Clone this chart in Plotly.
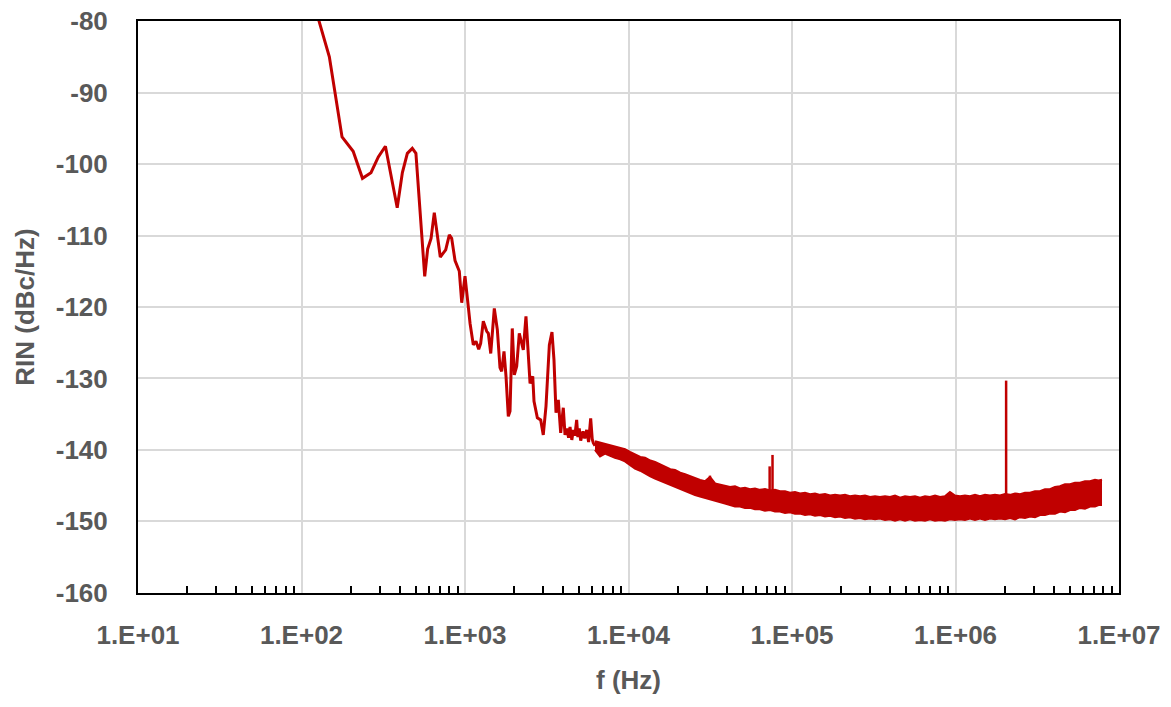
import plotly.graph_objects as go

# ---------------- data ----------------
# low-frequency part of the RIN trace (single line)
f_low = [120, 128, 148, 177, 207, 236, 266, 295, 326, 385, 414, 444, 476, 501,
         567, 591, 620, 649, 706, 762, 802, 829, 869, 923, 955, 1000, 1047, 1074,
         1124, 1167, 1213, 1247, 1294, 1358, 1389, 1437, 1511, 1577, 1637, 1676,
         1732, 1782, 1840, 1885, 1946, 2003, 2071, 2148, 2273, 2360, 2500, 2596,
         2643, 2770, 2904, 3011, 3128, 3280, 3404, 3501, 3603, 3722, 3848, 3991,
         4090, 4200, 4300, 4389, 4500, 4600, 4700, 4819, 4900, 5000, 5100, 5270,
         5400, 5550, 5700, 5871, 6000, 6093, 6240]
rin_low = [-77.5, -80.0, -85.0, -96.2, -98.2, -102.0, -101.2, -99.0, -97.5, -106.1,
           -101.2, -98.5, -97.8, -98.5, -115.7, -111.9, -110.4, -106.8, -113.0,
           -112.0, -109.9, -110.4, -113.5, -115.0, -119.4, -115.7, -119.9, -122.3,
           -125.3, -124.8, -125.9, -125.1, -122.0, -123.4, -123.7, -126.5, -120.2,
           -123.2, -128.5, -129.0, -126.2, -129.7, -135.3, -134.6, -123.0, -129.5,
           -128.3, -123.7, -126.0, -121.3, -130.7, -129.7, -133.2, -135.5, -135.8,
           -137.9, -133.9, -125.3, -123.5, -127.4, -134.8, -133.0, -137.6, -134.1,
           -137.9, -137.0, -138.3, -136.8, -138.6, -137.2, -138.0, -135.8, -138.2,
           -137.0, -138.7, -137.4, -138.4, -137.2, -138.9, -135.6, -138.5, -139.0,
           -139.4]

# noise band (upper / lower envelope) at higher frequencies
f_band = [6240, 6700, 7180, 7700, 8260, 8900, 9520, 10200, 10960, 11800, 12620,
          13600, 14530, 15600, 16730, 18000, 19250, 20700, 22170, 23800, 25520,
          27400, 29380, 31500, 33820, 36300, 38930, 41800, 44810, 48100, 51590,
          55400, 59390, 63700, 68370, 73400, 78710, 84500, 90620, 97200, 104300,
          112000, 120100, 129000, 138300, 148500, 159200, 171000, 183300, 197000,
          211000, 226000, 242900, 261000, 279600, 300000, 321900, 345000, 370600,
          398000, 426600, 458000, 491100, 527000, 565400, 607000, 650900, 698000,
          749300, 804000, 862600, 925000, 993000, 1066000, 1143000, 1226000,
          1316000, 1412000, 1515000, 1626000, 1744000, 1872000, 2008000, 2155000,
          2311000, 2480000, 2661000, 2855000, 3063000, 3286000, 3526000, 3783000,
          4059000, 4355000, 4673000, 5014000, 5380000, 5772000, 6193000, 6645000,
          7130000, 7500000, 7870000]
rin_top = [-138.8, -139.0, -139.2, -139.4, -139.5, -139.7, -139.9, -140.3, -140.6,
           -141.0, -141.1, -141.5, -141.7, -142.0, -142.3, -142.7, -142.8, -143.2,
           -143.4, -143.7, -143.9, -144.2, -144.4, -143.8, -144.7, -144.9, -145.0,
           -145.2, -145.1, -145.4, -145.3, -145.5, -145.4, -145.6, -145.5, -145.7,
           -145.6, -145.8, -145.8, -146.0, -145.9, -146.1, -146.0, -146.2, -146.1,
           -146.3, -146.2, -146.4, -146.3, -146.4, -146.3, -146.5, -146.4, -146.5,
           -146.4, -146.6, -146.5, -146.6, -146.5, -146.6, -146.4, -146.7, -146.5,
           -146.6, -146.5, -146.7, -146.5, -146.6, -146.4, -146.6, -146.5, -145.9,
           -146.4, -146.5, -146.4, -146.5, -146.3, -146.5, -146.3, -146.4, -146.3,
           -146.4, -146.2, -146.3, -146.1, -146.2, -146.0, -146.0, -145.8, -145.8,
           -145.5, -145.5, -145.2, -145.1, -144.8, -144.8, -144.6, -144.6, -144.4,
           -144.4, -144.2, -144.3, -144.2]
rin_bot = [-140.0, -140.9, -140.5, -140.8, -141.1, -141.3, -141.6, -142.1, -142.6,
           -142.9, -143.3, -143.7, -144.0, -144.3, -144.6, -144.9, -145.2, -145.5,
           -145.8, -146.0, -146.3, -146.5, -146.7, -147.0, -147.2, -147.3, -147.5,
           -147.7, -147.9, -147.9, -148.1, -148.1, -148.3, -148.3, -148.5, -148.4,
           -148.6, -148.6, -148.8, -148.7, -148.9, -148.9, -149.1, -149.0, -149.2,
           -149.1, -149.3, -149.2, -149.4, -149.3, -149.5, -149.4, -149.6, -149.5,
           -149.7, -149.6, -149.7, -149.6, -149.8, -149.7, -149.9, -149.7, -149.9,
           -149.7, -149.9, -149.8, -149.9, -149.7, -149.9, -149.8, -149.9, -149.7,
           -149.8, -149.7, -149.8, -149.6, -149.8, -149.6, -149.8, -149.6, -149.7,
           -149.6, -149.7, -149.5, -149.7, -149.4, -149.5, -149.3, -149.4, -149.1,
           -149.1, -148.9, -148.9, -148.6, -148.7, -148.4, -148.4, -148.1, -148.2,
           -147.9, -147.9, -147.7, -147.7]

# narrow spurs
f_spur = [31500, 31500, None, 73000, 73000, None, 76000, 76000, None, 2040000, 2040000]
rin_spur = [-145.5, -143.6, None, -146.5, -142.3, None, -146.5, -140.7, None, -147.0, -130.3]

x_tickvals = [1e1, 1e2, 1e3, 1e4, 1e5, 1e6, 1e7]
x_ticktext = ["1.E+01", "1.E+02", "1.E+03", "1.E+04", "1.E+05", "1.E+06", "1.E+07"]
x_minorvals = [m * d for d in [1e1, 1e2, 1e3, 1e4, 1e5, 1e6] for m in range(2, 10)]
y_tickvals = [-160, -150, -140, -130, -120, -110, -100, -90, -80]
y_ticktext = ["-160", "-150", "-140", "-130", "-120", "-110", "-100", "-90", "-80"]

# ---------------- figure ----------------
RED = "#C00000"
GREY = "#595959"
FONT = "Liberation Sans"

fig = go.Figure()
fig.add_trace(go.Scatter(x=f_band, y=rin_bot, mode="lines",
                         line=dict(color=RED, width=2.2), hoverinfo="skip",
                         showlegend=False))
fig.add_trace(go.Scatter(x=f_band, y=rin_top, mode="lines", fill="tonexty",
                         fillcolor=RED, line=dict(color=RED, width=2.2),
                         hoverinfo="skip", showlegend=False))
fig.add_trace(go.Scatter(x=f_low, y=rin_low, mode="lines",
                         line=dict(color=RED, width=3), showlegend=False))
fig.add_trace(go.Scatter(x=f_spur, y=rin_spur, mode="lines",
                         line=dict(color=RED, width=2.5), showlegend=False,
                         connectgaps=False))

fig.update_layout(
    width=1171, height=707,
    margin=dict(l=138, r=52, t=21, b=114),
    paper_bgcolor="white", plot_bgcolor="white",
    font=dict(family=FONT, color=GREY, size=26),
)
fig.update_xaxes(
    type="log", range=[1, 7], automargin=False,
    tickmode="array", tickvals=x_tickvals, ticktext=x_ticktext,
    tickfont=dict(family=FONT, size=26, color=GREY, weight="bold"),
    ticks="", ticklabelstandoff=18, ticklabeloverflow="allow",
    showgrid=True, gridcolor="#D9D9D9", gridwidth=1.5,
    showline=True, linecolor="black", linewidth=2, mirror=True,
    minor=dict(tickmode="array", tickvals=x_minorvals, ticks="inside",
               ticklen=7, tickwidth=1.5, tickcolor="black", showgrid=False),
    title=dict(text="f (Hz)", font=dict(family=FONT, size=26, color=GREY,
                                        weight="bold"), standoff=22),
    zeroline=False,
)
fig.update_yaxes(
    range=[-160.02, -79.98], automargin=False,
    tickmode="array", tickvals=y_tickvals, ticktext=y_ticktext,
    tickfont=dict(family=FONT, size=26, color=GREY, weight="bold"),
    ticks="", ticklabelstandoff=23, ticklabeloverflow="allow",
    showgrid=True, gridcolor="#D9D9D9", gridwidth=1.5,
    showline=True, linecolor="black", linewidth=2, mirror=True,
    title=dict(text="RIN (dBc/Hz)", font=dict(family=FONT, size=26, color=GREY,
                                              weight="bold"), standoff=14),
    zeroline=False,
)

# remove the default 8 px page margin so the figure fills the window exactly
fig.write_html("out.html",
               config={"displayModeBar": False},
               post_script="document.body.style.margin='0';document.body.style.overflow='hidden';")
